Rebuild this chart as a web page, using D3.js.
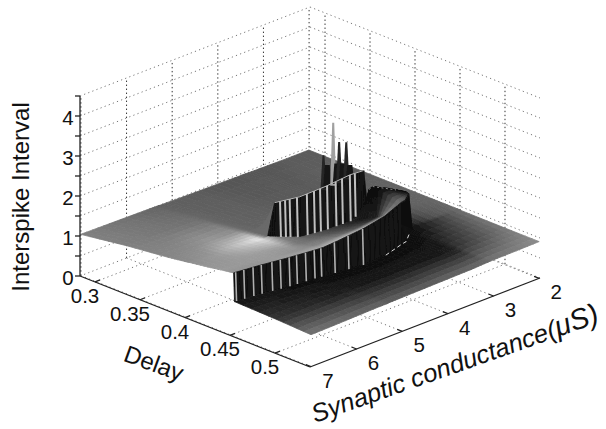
<!DOCTYPE html>
<html>
<head>
<meta charset="utf-8">
<script src="https://cdn.jsdelivr.net/npm/d3@7"></script>
<style>
html,body{margin:0;padding:0;background:#fff}
svg{display:block}
text{font-family:"Liberation Sans",Arial,sans-serif;fill:#111}
</style>
</head>
<body>
<svg id="chart" width="606" height="429"></svg>
<script>
// ---- axis ticks ----
const delayTicks = [0.3, 0.35, 0.4, 0.45, 0.5];
const condTicks = [7, 6, 5, 4, 3, 2];
const isiTicks = [0, 0.5, 1, 1.5, 2, 2.5, 3, 3.5, 4, 4.5];
const isiLabelled = [0, 1, 2, 3, 4];

// ---- surface: one row per conductance, nodes ----
const conductances = [7, 6.5, 6, 5.5, 5.35, 5.275, 5, 4.5, 4, 3.5, 3.4, 3.125, 3.05, 2.5, 2];
const surfaceDelay = [
 [.283,.334,.380,.398,.403,.424,.442,.453,.454,.501,.539],
 [.283,.334,.380,.401,.406,.426,.444,.456,.457,.501,.539],
 [.283,.334,.380,.403,.408,.431,.449,.460,.461,.501,.539],
 [.283,.334,.380,.406,.411,.437,.452,.463,.464,.501,.539],
 [.283,.334,.380,.407,.408,.437,.453,.464,.465,.501,.539],
 [.283,.334,.396,.411,.412,.437,.455,.465,.466,.501,.539],
 [.283,.360,.408,.425,.426,.442,.457,.467,.468,.501,.539],
 [.283,.360,.411,.429,.430,.447,.462,.471,.472,.501,.539],
 [.283,.360,.411,.430,.431,.444,.460,.469,.470,.501,.539],
 [.283,.360,.401,.420,.421,.426,.437,.462,.463,.501,.539],
 [.283,.360,.398,.419,.420,.425,.439,.461,.462,.501,.539],
 [.283,.360,.398,.419,.426,.437,.448,.451,.452,.501,.539],
 [.283,.360,.398,.419,.426,.437,.448,.451,.452,.501,.539],
 [.283,.360,.398,.419,.426,.437,.448,.451,.452,.501,.539],
 [.283,.360,.398,.419,.426,.437,.448,.451,.452,.501,.539]
];
const surfaceISI = [
 [1.03,1.20,1.32,1.38,1.40,1.47,1.54,1.58,.87,.84,.80],
 [1.02,1.18,1.31,1.36,1.38,1.45,1.52,1.57,.86,.84,.81],
 [1.01,1.16,1.29,1.33,1.35,1.43,1.50,1.56,.85,.84,.825],
 [1.00,1.15,1.28,1.33,1.35,1.42,1.48,1.55,.85,.84,.84],
 [.995,1.15,1.28,1.34,1.35,1.42,1.50,1.55,.85,.84,.84],
 [.99,1.14,1.30,2.20,1.35,1.42,1.50,1.56,.85,.84,.845],
 [.98,1.10,1.30,2.35,1.35,1.45,1.55,1.62,.85,.84,.85],
 [.97,1.08,1.30,2.43,1.35,1.50,1.65,1.75,.85,.84,.86],
 [.96,1.05,1.20,2.50,1.35,1.50,1.70,1.82,.85,.85,.87],
 [.95,1.00,1.10,2.30,1.35,1.88,1.95,1.88,.85,.85,.88],
 [.95,1.00,1.05,1.35,1.35,1.90,1.97,1.88,.85,.85,.885],
 [.94,.97,1.00,1.65,1.75,1.80,1.85,1.83,.85,.87,.90],
 [.94,.95,.97,.95,.95,.94,.93,.92,.92,.91,.905],
 [.93,.93,.93,.93,.93,.93,.93,.92,.92,.915,.91],
 [.93,.93,.93,.93,.93,.93,.93,.925,.925,.92,.92]
];
// brightness of the lit surface at each node (0 black, 1 white)
const surfaceLight = [
 [.50,.50,.52,.54,.55,.58,.60,.58,.09,.20,.46],
 [.47,.48,.54,.58,.60,.60,.60,.58,.07,.18,.44],
 [.44,.46,.60,.74,.72,.62,.60,.62,.06,.15,.42],
 [.40,.44,.56,.92,.85,.60,.56,.66,.05,.12,.40],
 [.39,.41,.42,.42,.65,.50,.54,.66,.05,.12,.40],
 [.38,.40,.41,.41,.52,.46,.52,.68,.05,.11,.38],
 [.37,.39,.40,.41,.36,.40,.50,.72,.05,.10,.38],
 [.36,.38,.40,.42,.24,.26,.34,.72,.05,.10,.38],
 [.34,.36,.38,.42,.12,.10,.12,.58,.05,.10,.40],
 [.34,.36,.38,.42,.07,.05,.05,.45,.05,.10,.42],
 [.34,.36,.38,.42,.07,.05,.05,.42,.05,.10,.42],
 [.34,.36,.38,.10,.06,.05,.05,.10,.05,.12,.44],
 [.34,.36,.36,.28,.22,.15,.08,.06,.06,.20,.46],
 [.36,.38,.38,.38,.36,.34,.32,.26,.24,.34,.50],
 [.36,.38,.40,.40,.40,.40,.42,.44,.44,.48,.55]
];
const innerTopCol = 3, outerTopCol = 7;

// conductances where the cliff faces catch the light
const outerStreaks = [6.96,6.8,6.62,6.46,6.26,6.1,5.93,5.785,5.61,5.44,5.315,5.06,4.8,4.525];
const innerStreaks = [5.215,5.16,5.11,5.03,4.865,4.73,4.615,4.48,4.30,4.165,4.0,3.82];

// spikes standing behind the inner cliff
const peakConductance = [4.55,4.475,4.35,4.275,4.225,4.15,4.075,4.0];
const peakISI = [3.22,2.95,3.95,2.9,3.42,2.85,3.35,2.75];

// ---- projection built from linear scales ----
const delayDomain = [0.2833, 0.5389], condDomain = [7.02, 1.98], isiDomain = [0, 4.5];
const ox = 80, oy = 276;
const xDelay = d3.scaleLinear(delayDomain, [0, 230]);
const yDelay = d3.scaleLinear(delayDomain, [0, 91]);
const xCond = d3.scaleLinear(condDomain, [0, 230]);
const yCond = d3.scaleLinear(condDomain, [0, -89]);
const yISI = d3.scaleLinear(isiDomain, [0, -180]);
const grey = d3.scaleLinear([0, 1], ["#000", "#fff"]);
const px = (d, c) => ox + xDelay(d) + xCond(c);
const py = (d, c, z) => oy + yDelay(d) + yCond(c) + yISI(z);
const proj = (d, c, z) => [px(d, c), py(d, c, z)];

const svg = d3.select("#chart");
const [dMin, dMax] = delayDomain, [cMax, cMin] = condDomain, zTop = isiDomain[1];
const defs = svg.append("defs");
defs.append("filter").attr("id", "soft").attr("x", "-5%").attr("y", "-5%").attr("width", "110%").attr("height", "110%")
  .append("feGaussianBlur").attr("stdDeviation", 0.5);

// ---- grid ----
const grid = svg.append("g").attr("fill", "none");
const seg = (a, b, stroke, dash) => grid.append("line")
  .attr("x1", a[0]).attr("y1", a[1]).attr("x2", b[0]).attr("y2", b[1])
  .attr("stroke", stroke).attr("stroke-width", 1).attr("stroke-dasharray", dash);
const hDash = "1.2 3.2", vDash = "1.4 2.6";
isiTicks.forEach(z => {
  seg(proj(dMin, cMax, z), proj(dMin, cMin, z), "#777", hDash);
  seg(proj(dMin, cMin, z), proj(dMax, cMin, z), "#777", hDash);
});
condTicks.forEach(c => {
  seg(proj(dMin, c, 0), proj(dMin, c, zTop), "#333", vDash);
  seg(proj(dMin, c, 0), proj(dMax, c, 0), "#777", hDash);
});
delayTicks.forEach(d => {
  seg(proj(d, cMin, 0), proj(d, cMin, zTop), "#333", vDash);
  seg(proj(d, cMax, 0), proj(d, cMin, 0), "#777", hDash);
});

// ---- surface: painted far row to near row, back column to front column ----
const node = (r, c) => ({d: surfaceDelay[r][c], c: conductances[r], z: surfaceISI[r][c], l: surfaceLight[r][c]});
const mix = (a, b, t) => a + (b - a) * t;
const bil = (n00, n01, n10, n11, s, t, k) => mix(mix(n00[k], n01[k], s), mix(n10[k], n11[k], s), t);
const quads = [];
for (let r = conductances.length - 2; r >= 0; r--) {
  const nt = 4;
  for (let j = nt - 1; j >= 0; j--) {
    for (let c = 0; c < surfaceISI[0].length - 1; c++) {
      const a = node(r, c), b = node(r, c + 1), e = node(r + 1, c), f = node(r + 1, c + 1);
      const cliff = (c === innerTopCol || c === outerTopCol) &&
        (Math.abs(a.z - b.z) > .3 || Math.abs(e.z - f.z) > .3);
      const ns = cliff ? 1 : 5;
      for (let i = 0; i < ns; i++) {
        const s0 = i / ns, s1 = (i + 1) / ns, t0 = j / nt, t1 = (j + 1) / nt;
        const P = (s, t) => proj(bil(a, b, e, f, s, t, "d"), bil(a, b, e, f, s, t, "c"), bil(a, b, e, f, s, t, "z"));
        const sm = (s0 + s1) / 2, tm = (t0 + t1) / 2;
        quads.push({
          pts: [P(s0, t0), P(s1, t0), P(s1, t1), P(s0, t1)],
          light: cliff ? .07 : bil(a, b, e, f, sm, tm, "l")
        });
      }
    }
  }
}
const surf = svg.append("g").attr("filter", "url(#soft)");
surf.selectAll("path.q").data(quads).join("path").attr("class", "q")
  .attr("d", q => "M" + q.pts.join("L") + "Z")
  .attr("fill", q => grey(q.light)).attr("stroke", q => grey(q.light)).attr("stroke-width", .8);

// value on a mesh column at any conductance, from the neighbouring rows
const rowAt = c => {
  const asc = conductances.map(x => -x);
  const i = Math.min(Math.max(d3.bisectLeft(asc, -c), 1), conductances.length - 1);
  return [i - 1, i, (conductances[i - 1] - c) / (conductances[i - 1] - conductances[i])];
};
const onCol = (cond, col) => {
  const [a, b, t] = rowAt(cond);
  return {d: mix(surfaceDelay[a][col], surfaceDelay[b][col], t), c: cond, z: mix(surfaceISI[a][col], surfaceISI[b][col], t)};
};
const P2 = n => proj(n.d, n.c, n.z);

// peaks
const peakFill = z => z > 3.8 ? "#a0a0a0" : z > 3.1 ? "#262626" : "#181818";
surf.selectAll("path.peak").data(peakConductance.map((c, i) => ({c, z: peakISI[i]}))).join("path").attr("class", "peak")
  .attr("d", p => {
    const base = P2(onCol(p.c, innerTopCol)), tip = proj(onCol(p.c, innerTopCol).d, p.c, p.z);
    const w = p.z > 3 ? 3 : 4;
    const tw = p.z > 3 ? 1 : 2.5;
    return `M${base[0] - w},${base[1] + 3}L${tip[0] - tw},${tip[1]}L${tip[0] + tw},${tip[1]}L${base[0] + w},${base[1] + 3}Z`;
  })
  .attr("fill", p => peakFill(p.z));

// light streaks on the two cliff faces
const streak = (list, col, stroke, width) => surf.append("g").selectAll("line").data(list).join("line")
  .attr("x1", c => P2(onCol(c, col))[0]).attr("y1", c => P2(onCol(c, col))[1])
  .attr("x2", c => P2(onCol(c, col + 1))[0]).attr("y2", c => P2(onCol(c, col + 1))[1])
  .attr("stroke", stroke).attr("stroke-width", width);
streak(outerStreaks, outerTopCol, "#b0b0b0", 1.6);
streak(innerStreaks, innerTopCol, "#c0c0c0", 2);

// rims along the cliffs
const rim = (conds, col, stroke, width, dash) => surf.append("path")
  .attr("d", d3.line()(conds.map(c => P2(onCol(c, col)))))
  .attr("fill", "none").attr("stroke", stroke).attr("stroke-width", width).attr("stroke-dasharray", dash || null);
rim(conductances.filter(c => c <= 5.275 && c >= 3.5), innerTopCol, "#b8b8b8", 1);
rim(conductances.filter(c => c <= 4 && c >= 3.125), outerTopCol + 1, "#d8d8d8", 1, "4 3");
rim(conductances.filter(c => c <= 3.5 && c >= 3.125), outerTopCol - 2, "#8a8a8a", 1, "2 2.5");

// ---- axes ----
const axes = svg.append("g").attr("fill", "none").attr("stroke", "#222").attr("stroke-width", 1.3);
const ax = (a, b) => axes.append("line").attr("x1", a[0]).attr("y1", a[1]).attr("x2", b[0]).attr("y2", b[1]);
ax(proj(dMin, cMax, 0), proj(dMin, cMax, zTop));
ax(proj(dMin, cMax, 0), proj(dMax, cMax, 0));
ax(proj(dMax, cMax, 0), proj(dMax, cMin, 0));
isiTicks.forEach(z => { const p = proj(dMin, cMax, z); ax(p, [p[0] - 5, p[1]]); });
delayTicks.forEach(d => { const p = proj(d, cMax, 0); ax(p, [p[0] + 5, p[1] - 2]); });
condTicks.forEach(c => { const p = proj(dMax, c, 0); ax(p, [p[0] - 5, p[1] - 2]); });

// ---- labels ----
const labels = svg.append("g").attr("font-size", 20.5).attr("text-anchor", "middle");
labels.selectAll("text.z").data(isiLabelled).join("text").attr("class", "z")
  .attr("x", ox - 12).attr("y", z => proj(dMin, cMax, z)[1] + 9).text(d => d);
labels.selectAll("text.d").data(delayTicks).join("text").attr("class", "d")
  .attr("x", d => proj(d, cMax, 0)[0] - 10).attr("y", d => proj(d, cMax, 0)[1] + 21).text(d => d);
labels.selectAll("text.c").data(condTicks).join("text").attr("class", "c")
  .attr("x", c => proj(dMax, c, 0)[0] + 17).attr("y", c => proj(dMax, c, 0)[1] + 21).text(d => d);

svg.append("text").attr("transform", "translate(29,197) rotate(-90)")
  .attr("text-anchor", "middle").attr("font-size", 24).text("Interspike Interval");
svg.append("text").attr("transform", "translate(151,371) rotate(20)")
  .attr("text-anchor", "middle").attr("font-size", 24).text("Delay");
const t = svg.append("text").attr("transform", "translate(315,423) rotate(-19.5)")
  .attr("text-anchor", "start").attr("font-size", 25.5).attr("font-style", "italic");
t.append("tspan").text("Synaptic conductance(");
t.append("tspan").attr("font-size", 29).text("μS");
t.append("tspan").attr("font-size", 29).text(")");
</script>
</body>
</html>
